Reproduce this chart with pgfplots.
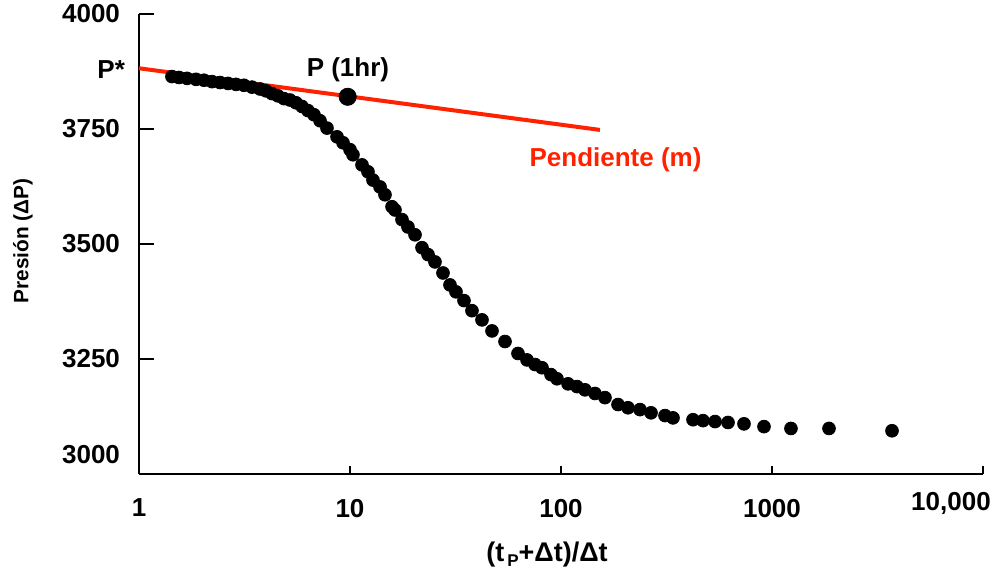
\documentclass[border=0pt]{standalone}
\usepackage{pgfplots}
\pgfplotsset{compat=1.18}
\usepackage{pgfplotstable}
\usepackage{fontspec}
\setmainfont{Liberation Sans}
\definecolor{redline}{RGB}{255,34,0}
\pgfplotstableread{
x y
1.433 3864
1.547 3862
1.689 3860
1.863 3858
2.032 3856
2.218 3853
2.421 3851
2.642 3849
2.883 3847
3.145 3845
3.432 3841
3.746 3837
3.999 3833
4.269 3827
4.558 3822
4.867 3816
5.196 3813
5.548 3807
5.923 3799
6.323 3790
6.752 3781
7.210 3768
7.78 3752
8.68 3733
9.27 3720
10.0 3705
10.33 3694
11.40 3672
12.17 3657
12.85 3639
13.88 3624
14.65 3607
15.82 3581
16.34 3574
17.64 3553
18.83 3537
20.33 3520
21.94 3492
23.43 3477
25.28 3461
27.59 3437
29.78 3411
31.80 3396
34.70 3377
37.86 3355
42.23 3335
47.10 3311
54.28 3288
62.55 3262
69.02 3248
75.32 3238
81.28 3231
89.67 3216
95.72 3207
108.0 3196
119.1 3190
129.9 3183
144.9 3175
161.6 3166
186.3 3151
207.7 3144
236.8 3140
267.1 3133
311.1 3127
339.5 3122
422.3 3118
471.0 3116
537.0 3114
618.7 3112
736.8 3109
916.4 3103
1230 3099
1863 3099
3705 3094
}\datatable
\begin{document}
\begin{tikzpicture}
\begin{semilogxaxis}[
  width=422pt, height=230pt, scale only axis,
  xmin=1, xmax=10000, ymin=3000, ymax=4000,
  axis lines=left,
  axis line style={-, line width=1.3pt, black},
  tick align=inside,
  major tick length=7.5pt,
  tick style={line width=1.2pt, black},
  xtick={1,10,100,1000,10000},
  xticklabels={1,10,100,1000,{}},
  xminorticks=false,
  x tick style={/pgfplots/major tick length=4pt},
  ytick={3250,3500,3750,4000},
  /pgf/number format/1000 sep={},
  /pgf/number format/assume math mode=true,
  ticklabel style={font=\bfseries\fontsize{13}{13}\selectfont},
  yticklabel style={xshift=-6pt},
  xticklabel style={yshift=-9pt},
  clip=false,
  ylabel={Presión (ΔP)},
  ylabel style={at={(rel axis cs:-0.1374,0.5065)}, anchor=center, font=\bfseries\fontsize{10.4}{10.4}\selectfont},
  xlabel={(t\kern1.5pt\raisebox{-0.35ex}{\fontsize{8.5}{8.5}\selectfont P}+Δt)/Δt},
  xlabel style={at={(rel axis cs:0.4834,-0.1761)}, anchor=center, font=\bfseries\fontsize{13.5}{13.5}\selectfont},
]
\addplot[only marks, mark=*, mark size=3.2pt, mark options={draw=black, fill=black}] table[x=x, y=y] {\datatable};
\addplot[redline, line width=2pt, no marks] coordinates {(1,3882) (153,3748)};
\addplot[only marks, mark=*, mark size=4.3pt, mark options={draw=black, fill=black}] coordinates {(9.75,3820)};
\node[anchor=east, font=\bfseries\fontsize{13}{13}\selectfont] at (axis cs:1,3880) [xshift=-3.5pt] {P*};
\node[anchor=center, font=\bfseries\fontsize{13}{13}\selectfont] at (axis cs:9.78,3878) {P (1hr)};
\node[anchor=center, text=redline, font=\bfseries\fontsize{13}{13}\selectfont] at (axis cs:181.3,3683) {Pendiente (m)};
\node[anchor=center, font=\bfseries\fontsize{13}{13}\selectfont] at (rel axis cs:1,0) [xshift=-16pt, yshift=-14.5pt] {10,000};
\node[anchor=east, font=\bfseries\fontsize{13}{13}\selectfont] at (rel axis cs:0,0) [xshift=-6pt, yshift=9.5pt] {3000};
\coordinate (bbBL) at (rel axis cs:-0.16469,-0.21087);
\coordinate (bbTR) at (rel axis cs:1.01303,1.03043);
\end{semilogxaxis}
\pgfresetboundingbox
\path (bbBL) rectangle (bbTR);
\end{tikzpicture}
\end{document}
